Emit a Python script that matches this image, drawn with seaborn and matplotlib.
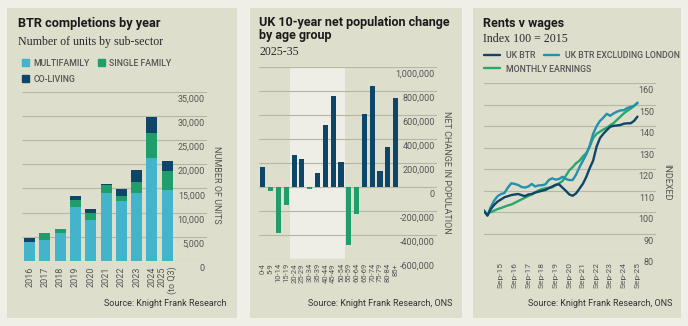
import numpy as np
import pandas as pd
import matplotlib
matplotlib.use("Agg")
import matplotlib.pyplot as plt
from matplotlib.patches import Rectangle, Patch
from matplotlib.lines import Line2D
from matplotlib.transforms import ScaledTranslation
from matplotlib.ticker import FuncFormatter
import seaborn as sns

# ---------------- data ----------------
# BTR completions by year (number of units by sub-sector)
years = ["2016", "2017", "2018", "2019", "2020", "2021", "2022", "2023", "2024", "2025\n(to Q3)"]
multifamily = [3900, 4400, 5800, 11100, 8400, 14100, 12500, 14100, 21300, 14700]
single_family = [0, 1400, 800, 1450, 1600, 1600, 950, 2250, 5200, 4000]
co_living = [800, 0, 100, 900, 800, 300, 1450, 2550, 3200, 2000]

# UK 10-year net population change by age group, 2025-35
age_groups = ["0-4", "5-9", "10-14", "15-19", "20-24", "25-29", "30-34", "35-39", "40-44",
              "45-49", "50-54", "55-59", "60-64", "65-69", "70-74", "75-79", "80-84", "85+"]
pop_change = [165000, -36000, -386000, -150000, 267000, 231000, -19000, 114000, 519000,
              758000, 206000, -486000, -222000, 608000, 842000, 136000, 336000, 739000]

# Rents v wages, index 100 = 2015 (quarterly, Jun-14 to Sep-25)
quarters = pd.date_range(start="2014-06-01", periods=46, freq="3MS")
uk_btr = [100.5, 98.5, 101.5, 103.5, 105, 106, 107, 107.5, 108, 108.3, 108.5, 108, 107.5,
          108.3, 108.5, 109.2, 109.6, 110, 110.4, 111.2, 112, 112.8, 113, 111.5, 110, 108.3,
          107.7, 108.8, 111, 113.3, 116.5, 120.5, 124, 130.5, 134.5, 136.5, 138.2, 139.8,
          140.2, 140.4, 140.6, 141.2, 141.4, 141.4, 142.5, 144.5]
uk_btr_ex_london = [101, 98.5, 102.5, 105.5, 107.5, 108.5, 109, 111.5, 113.5, 113.2, 112.7,
                    111.8, 111.5, 112, 113.2, 112, 112.5, 112.6, 113, 115, 115.8, 115.2,
                    115.5, 116.5, 115.5, 115, 115, 117.5, 121, 124, 127, 131, 136.5, 140,
                    142.5, 144, 145.8, 144.9, 146, 146.8, 147.4, 147.5, 148.5, 149, 149.5, 151]
monthly_earnings = [np.nan, np.nan, 100, 100.8, 101.5, 102, 102.6, 103.2, 103.6, 104.4, 105.2,
                    106, 106.8, 107.6, 108.3, 109.2, 110.2, 110.8, 111.2, 111.4, 111.6, 112.5,
                    113.5, 114.5, 117, 119.5, 121, 122.8, 124, 126, 127.5, 130.5, 134.5,
                    136.5, 137.5, 138.5, 139.3, 140.5, 141.5, 143, 144.5, 146, 147.2, 148.2,
                    149.5, 150.8]
sep_ticks = [f"{y}-09-01" for y in range(2015, 2026)]
sep_labels = [f"Sep-{y % 100:02d}" for y in range(2015, 2026)]

# ---------------- style ----------------
OUTER = "#efefe8"
PANEL = "#dedecd"
SHADE = "#eeeee6"
GRID = "#b7b7a6"
NAVY = "#0d4667"
GREEN = "#1f9e6c"
LIGHT = "#43b4c9"
TEAL = "#2390ad"
EARN = "#27a66f"
TICK = "#555555"
TEXT = "#1b1b1b"

sns.set_style("white")
plt.rcParams["font.family"] = ["Roboto", "DejaVu Sans"]

W, H = 688, 326
fig = plt.figure(figsize=(W / 100, H / 100), dpi=100, facecolor=OUTER)


def fx(x):
    return x / W


def fy(y):
    return 1 - y / H


def box(x0, x1, y_top, y_bot):
    return [fx(x0), fy(y_bot), (x1 - x0) / W, (y_bot - y_top) / H]


for x0, x1 in [(7, 237), (250, 462), (473, 681)]:
    fig.patches.append(Rectangle((fx(x0), fy(318)), (x1 - x0) / W, (318 - 8) / H,
                                 transform=fig.transFigure, facecolor=PANEL,
                                 edgecolor="none", zorder=-10))


def thousands(v, _):
    return f"{int(round(v)):,}"


def style_axes(ax, ticks, fmt, xpad):
    ax.set_facecolor("none")
    for s in ax.spines.values():
        s.set_visible(False)
    ax.set_yticks(ticks)
    ax.set_ylim(ticks[0], ticks[-1])
    ax.yaxis.set_major_formatter(FuncFormatter(fmt))
    ax.yaxis.tick_right()
    ax.tick_params(axis="y", length=0, pad=-1.5, labelsize=6.5, labelcolor=TICK)
    ax.tick_params(axis="x", length=0, pad=xpad, labelcolor=TICK)
    ax.grid(axis="y", color=GRID, linewidth=0.8)
    ax.grid(axis="x", visible=False)
    ax.set_axisbelow(True)
    ax.set_xlabel("")
    shift = ScaledTranslation(0, -2 / 72, fig.dpi_scale_trans)
    for t in ax.yaxis.get_major_ticks():
        t.label2.set_horizontalalignment("right")
        t.label2.set_verticalalignment("top")
        t.label2.set_transform(t.label2.get_transform() + shift)


def side_label(ax, text, x, y):
    ax.yaxis.set_label_position("right")
    ax.set_ylabel(text, rotation=270, fontsize=6.5, color=TICK, ha="center", va="center")
    ax.yaxis.set_label_coords(x, y)


legend_font = dict(size=6.3, weight="medium")
SERIF = ["Liberation Serif", "DejaVu Serif"]

# ---------------- panel 1: BTR completions ----------------
df1 = pd.DataFrame({"year": years, "mf": multifamily, "sf": single_family, "cl": co_living})
df1["mf_sf"] = df1["mf"] + df1["sf"]
df1["total"] = df1["mf_sf"] + df1["cl"]

ax1 = fig.add_axes(box(22, 207, 91.7, 261))
for col, colr in [("total", NAVY), ("mf_sf", GREEN), ("mf", LIGHT)]:
    sns.barplot(data=df1, x="year", y=col, color=colr, saturation=1, width=0.72,
                linewidth=0, ax=ax1, zorder=2)
style_axes(ax1, np.arange(0, 35001, 5000), thousands, 4)
ax1.set_xlim(-0.5, 11.6)
ax1.set_xticks(range(len(years)))
ax1.set_xticklabels(years, rotation=90, fontsize=6.5, va="top", ha="center",
                    multialignment="right")
side_label(ax1, "NUMBER OF UNITS", (217 - 22) / 185, (261 - 185) / (261 - 91.7))

fig.text(fx(18), fy(24), "BTR completions by year", fontsize=9.2, fontweight="bold",
         color=TEXT, ha="left", va="center")
fig.text(fx(18), fy(41.7), "Number of units by sub-sector", fontsize=8.6,
         family=SERIF, color="#2a2a2a", ha="left", va="center")
handles1 = [Patch(color=LIGHT), Patch(color=NAVY), Patch(color=GREEN)]
labels1 = ["MULTIFAMILY", "CO-LIVING", "SINGLE FAMILY"]
fig.legend(handles1, labels1, ncol=2, loc="upper left", bbox_to_anchor=(fx(22), fy(59)),
           frameon=False, prop=legend_font, labelcolor=TICK, handlelength=0.85,
           handleheight=0.85, handletextpad=0.45, columnspacing=0.9, labelspacing=0.75,
           borderpad=0, borderaxespad=0)
fig.text(fx(227), fy(303.3), "Source: Knight Frank Research", fontsize=6.5, color="#333333",
         ha="right", va="center")

# ---------------- panel 2: population change ----------------
df2 = pd.DataFrame({"age": age_groups, "change": pop_change})
df2["sign"] = np.where(df2["change"] >= 0, "gain", "loss")

ax2 = fig.add_axes(box(259, 437, 67, 259))
ax2.axvspan(3.5, 10.5, color=SHADE, zorder=0, linewidth=0)
sns.barplot(data=df2, x="age", y="change", hue="sign", palette={"gain": NAVY, "loss": GREEN},
            dodge=False, saturation=1, width=0.65, linewidth=0, legend=False, ax=ax2, zorder=2)
style_axes(ax2, np.arange(-600000, 1000001, 200000), thousands, 3)
ax2.set_xlim(-0.5, 22.3)
ax2.set_xticks(range(len(age_groups)))
ax2.set_xticklabels(age_groups, rotation=90, fontsize=5.5, va="top", ha="center")
side_label(ax2, "NET CHANGE IN POPULATION", (447 - 259) / 178, (259 - 172) / 192)

fig.text(fx(259), fy(22.7), "UK 10-year net population change", fontsize=9,
         fontweight="bold", color=TEXT, ha="left", va="center")
fig.text(fx(259), fy(35), "by age group", fontsize=9, fontweight="bold", color=TEXT,
         ha="left", va="center")
fig.text(fx(259), fy(51.7), "2025-35", fontsize=8.6, family=SERIF,
         color="#2a2a2a", ha="left", va="center")
fig.text(fx(452), fy(304), "Source: Knight Frank Research, ONS", fontsize=6.5,
         color="#333333", ha="right", va="center")

# ---------------- panel 3: rents v wages ----------------
series_names = ["UK BTR", "UK BTR EXCLUDING LONDON", "MONTHLY EARNINGS"]
df3 = pd.DataFrame({"date": quarters, series_names[0]: uk_btr,
                    series_names[1]: uk_btr_ex_london, series_names[2]: monthly_earnings})
df3 = df3.melt(id_vars="date", var_name="series", value_name="index").dropna()
line_colors = {series_names[0]: NAVY, series_names[1]: TEAL, series_names[2]: EARN}

ax3 = fig.add_axes(box(484, 656, 83.3, 255.3))
sns.lineplot(data=df3, x="date", y="index", hue="series", hue_order=[series_names[2],
             series_names[1], series_names[0]], palette=line_colors, linewidth=1.7,
             legend=False, ax=ax3, zorder=3)
style_axes(ax3, np.arange(80, 161, 10), lambda v, _: f"{int(v)}", 5)
ax3.set_xticks(pd.to_datetime(sep_ticks))
ax3.set_xticklabels(sep_labels, rotation=90, fontsize=6, va="top", ha="center")
ax3.set_xlim(pd.Timestamp("2014-06-01"), pd.Timestamp("2027-01-10"))
side_label(ax3, "INDEXED", (667 - 484) / 172, (255.3 - 182) / 172)

fig.text(fx(483), fy(24), "Rents v wages", fontsize=9, fontweight="bold", color=TEXT,
         ha="left", va="center")
fig.text(fx(483), fy(39.3), "Index 100 = 2015", fontsize=8.6, family=SERIF,
         color="#2a2a2a", ha="left", va="center")
leg_kw = dict(loc="upper left", frameon=False, prop=legend_font, labelcolor=TICK,
              handlelength=1.8, handletextpad=0.7, columnspacing=0.95, borderpad=0,
              borderaxespad=0)
fig.legend([Line2D([], [], color=NAVY, lw=1.7), Line2D([], [], color=TEAL, lw=1.7)],
           series_names[:2], ncol=2, bbox_to_anchor=(fx(484), fy(51.5)), **leg_kw)
fig.legend([Line2D([], [], color=EARN, lw=1.7)], series_names[2:], ncol=1,
           bbox_to_anchor=(fx(484), fy(64.5)), **leg_kw)
fig.text(fx(672), fy(303.3), "Source: Knight Frank Research, ONS", fontsize=6.5,
         color="#333333", ha="right", va="center")

fig.savefig("out.png", dpi=100, facecolor=OUTER)
